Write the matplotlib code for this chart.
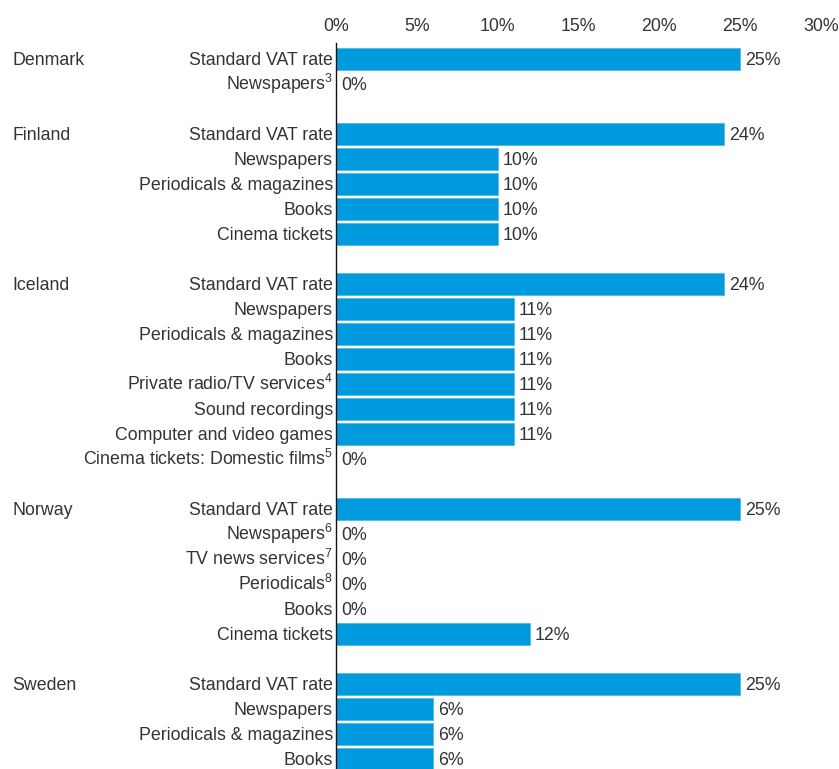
import matplotlib.pyplot as plt
import matplotlib.transforms as mtrans

countries = ["Denmark", "Finland", "Iceland", "Norway", "Sweden"]
categories = [
    ["Standard VAT rate", "Newspapers$^{3}$"],
    ["Standard VAT rate", "Newspapers", "Periodicals & magazines", "Books", "Cinema tickets"],
    ["Standard VAT rate", "Newspapers", "Periodicals & magazines", "Books",
     "Private radio/TV services$^{4}$", "Sound recordings", "Computer and video games",
     "Cinema tickets: Domestic films$^{5}$"],
    ["Standard VAT rate", "Newspapers$^{6}$", "TV news services$^{7}$", "Periodicals$^{8}$", "Books", "Cinema tickets"],
    ["Standard VAT rate", "Newspapers", "Periodicals & magazines", "Books"],
]
values = [
    [25, 0],
    [24, 10, 10, 10, 10],
    [24, 11, 11, 11, 11, 11, 11, 0],
    [25, 0, 0, 0, 0, 12],
    [25, 6, 6, 6],
]
xticks = [0, 5, 10, 15, 20, 25, 30]

plt.rcParams['font.family'] = ['Liberation Sans', 'DejaVu Sans']
plt.rcParams['mathtext.fontset'] = 'custom'
plt.rcParams['mathtext.rm'] = 'Liberation Sans'
plt.rcParams['mathtext.it'] = 'Liberation Sans'
plt.rcParams['mathtext.bf'] = 'Liberation Sans'
plt.rcParams['mathtext.default'] = 'regular'
TXT = '#333333'
BAR = '#009ADE'
FS = 12.8
BL = 0.25

fig = plt.figure(figsize=(8.39, 7.69), dpi=100)
ax = fig.add_axes([336/839, 0, (821-336)/839, 1 - 43/769])
blend = mtrans.blended_transform_factory(fig.transFigure, ax.transData)

pos = 0
for c, cats, vals in zip(countries, categories, values):
    for j, (cat, v) in enumerate(zip(cats, vals)):
        ax.barh(pos, v, height=0.88, color=BAR, edgecolor='#4FB8E8', linewidth=0.6)
        ax.text(v + 0.3, pos + BL, f"{v}%", va='baseline', ha='left', fontsize=FS, color=TXT)
        ax.text(-0.2, pos + BL, cat, va='baseline', ha='right', fontsize=FS, color=TXT)
        if j == 0:
            ax.text(12/839, pos + BL, c, va='baseline', ha='left', fontsize=FS, color=TXT,
                    transform=blend)
        pos += 1
    pos += 1

ax.set_xlim(0, 30)
ax.set_ylim(28.4, -0.64)
ax.xaxis.tick_top()
ax.set_xticks(xticks)
ax.set_xticklabels([f"{t}%" for t in xticks], fontsize=FS, color=TXT)
ax.tick_params(axis='x', length=0, pad=6)
ax.set_yticks([])
for s in ['top', 'right', 'bottom']:
    ax.spines[s].set_visible(False)
ax.spines['left'].set_color('#111111')
ax.spines['left'].set_linewidth(1.0)
ax.patch.set_visible(False)

fig.savefig("out.png", dpi=100)
